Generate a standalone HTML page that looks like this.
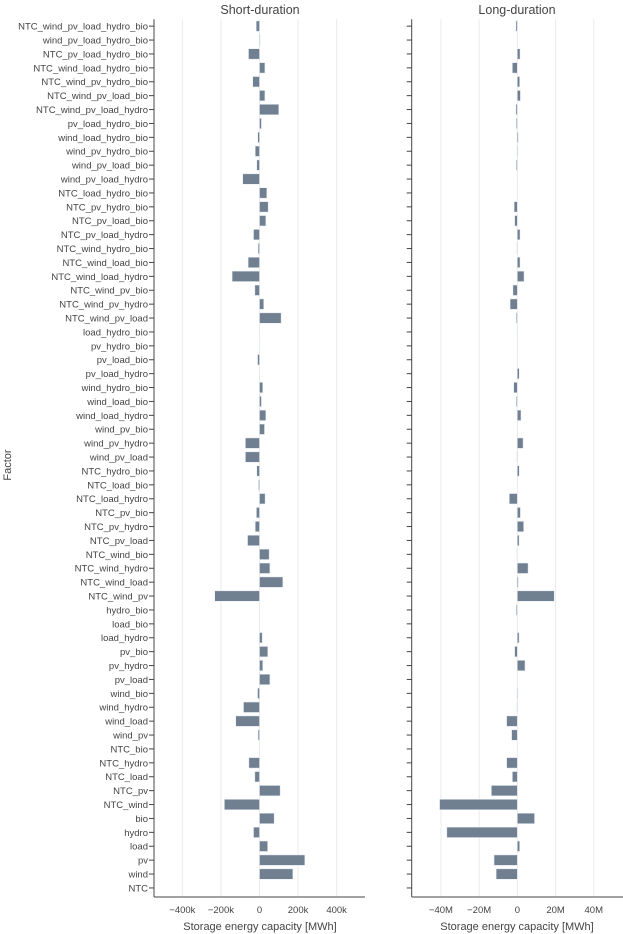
<!DOCTYPE html>
<html><head><meta charset="utf-8">
<style>
html,body{margin:0;padding:0;background:#fff;}
svg{display:block;font-family:"Liberation Sans","DejaVu Sans",sans-serif;}
</style></head>
<body>
<svg id="chart" width="623" height="934" viewBox="0 0 623 934" xmlns="http://www.w3.org/2000/svg">
<text x="260" y="14" font-size="12.5" text-anchor="middle" fill="#444">Short-duration</text>
<text x="517" y="14" font-size="12.5" text-anchor="middle" fill="#444">Long-duration</text>
<text x="0" y="0" font-size="11" text-anchor="middle" fill="#444" transform="translate(11,465) rotate(-90)">Factor</text>
<text x="260" y="930" font-size="11" text-anchor="middle" fill="#444">Storage energy capacity [MWh]</text>
<text x="517" y="930" font-size="11" text-anchor="middle" fill="#444">Storage energy capacity [MWh]</text>
<g id="g"></g>
</svg>
<script>
const categories = ["NTC_wind_pv_load_hydro_bio","wind_pv_load_hydro_bio","NTC_pv_load_hydro_bio","NTC_wind_load_hydro_bio","NTC_wind_pv_hydro_bio","NTC_wind_pv_load_bio","NTC_wind_pv_load_hydro","pv_load_hydro_bio","wind_load_hydro_bio","wind_pv_hydro_bio","wind_pv_load_bio","wind_pv_load_hydro","NTC_load_hydro_bio","NTC_pv_hydro_bio","NTC_pv_load_bio","NTC_pv_load_hydro","NTC_wind_hydro_bio","NTC_wind_load_bio","NTC_wind_load_hydro","NTC_wind_pv_bio","NTC_wind_pv_hydro","NTC_wind_pv_load","load_hydro_bio","pv_hydro_bio","pv_load_bio","pv_load_hydro","wind_hydro_bio","wind_load_bio","wind_load_hydro","wind_pv_bio","wind_pv_hydro","wind_pv_load","NTC_hydro_bio","NTC_load_bio","NTC_load_hydro","NTC_pv_bio","NTC_pv_hydro","NTC_pv_load","NTC_wind_bio","NTC_wind_hydro","NTC_wind_load","NTC_wind_pv","hydro_bio","load_bio","load_hydro","pv_bio","pv_hydro","pv_load","wind_bio","wind_hydro","wind_load","wind_pv","NTC_bio","NTC_hydro","NTC_load","NTC_pv","NTC_wind","bio","hydro","load","pv","wind","NTC"];
// Short-duration, in MWh
const shortValues = [-17e3,3e3,-57e3,28e3,-35e3,28e3,100e3,10e3,-9e3,-22e3,-14e3,-87e3,38e3,45e3,33e3,-31e3,-7e3,-59e3,-142e3,-24e3,22e3,112e3,0,2e3,-10e3,1e3,17e3,10e3,33e3,26e3,-73e3,-73e3,-14e3,-5e3,29e3,-16e3,-22e3,-62e3,50e3,54e3,121e3,-232e3,1e3,0,14e3,43e3,17e3,54e3,-10e3,-83e3,-123e3,-7e3,0,-55e3,-24e3,107e3,-182e3,76e3,-31e3,42e3,235e3,173e3,0];
// Long-duration, in MWh
const longValues = [-0.7e6,0,1.4e6,-2.6e6,1.2e6,1.6e6,-0.7e6,-0.5e6,0.5e6,0.3e6,-0.5e6,0,0,-1.7e6,-1.4e6,1.4e6,-0.3e6,1.4e6,3.5e6,-2.3e6,-3.8e6,-0.5e6,0.2e6,0,0,1e6,-1.9e6,-0.5e6,1.9e6,0,3e6,-0.3e6,1e6,0,-4.2e6,1.6e6,3.3e6,0.9e6,-0.2e6,5.6e6,0.5e6,19.3e6,-0.5e6,0,0.9e6,-1.4e6,4e6,0,0.3e6,-0.3e6,-5.6e6,-3e6,0,-5.6e6,-2.6e6,-13.6e6,-40.7e6,9e6,-36.9e6,1.2e6,-12.2e6,-11.1e6,0];
const shortTicks = [-400e3,-200e3,0,200e3,400e3];
const shortTickLabels = ["−400k","−200k","0","200k","400k"];
const longTicks = [-40e6,-20e6,0,20e6,40e6];
const longTickLabels = ["−40M","−20M","0","20M","40M"];

const NS="http://www.w3.org/2000/svg";
const gEl=document.getElementById('g');
const plotTop=19.2, plotBottom=894.9, axisY=897;
const rowH=(plotBottom-plotTop)/categories.length;
function yPos(i){return plotTop+rowH*(i+0.5);}
function mk(tag,attrs){const e=document.createElementNS(NS,tag);for(const k in attrs)e.setAttribute(k,attrs[k]);gEl.appendChild(e);return e;}

const panels=[
 {name:'short',x0:154,x1:365,min:-547e3,max:547e3,vals:shortValues,ticks:shortTicks,labels:shortTickLabels},
 {name:'long',x0:411.7,x1:623,min:-55.3e6,max:55.3e6,vals:longValues,ticks:longTicks,labels:longTickLabels}
];
panels.forEach(p=>{
  const xs=v=>p.x0+(v-p.min)/(p.max-p.min)*(p.x1-p.x0);
  p.ticks.forEach((t,k)=>{
    const gl=mk('line',{x1:xs(t),x2:xs(t),y1:plotTop,y2:axisY,stroke:'#ebebeb','stroke-width':1});
    
    
    const tl=mk('text',{x:xs(t),y:913,'font-size':9.5,'text-anchor':'middle',fill:'#444'});
    tl.textContent=p.labels[k];
    
    
  });
  p.vals.forEach((v,i)=>{
    const a=xs(0),b=xs(v);
    const r=mk('rect',{x:Math.min(a,b),y:yPos(i)-5.2,width:Math.max(Math.abs(b-a),0.01),height:10.4,fill:'#708090',stroke:'#e5ecf6','stroke-width':0.5});
    
    
  });
  const ya=mk('line',{x1:p.x0,x2:p.x0,y1:plotTop,y2:axisY,stroke:'#444','stroke-width':1});
  
  
  const xa=mk('line',{x1:p.x0,x2:p.x1,y1:axisY,y2:axisY,stroke:'#444','stroke-width':1});
  
  
  categories.forEach((c,i)=>{
    const tk=mk('line',{x1:p.x0-5,x2:p.x0,y1:yPos(i),y2:yPos(i),stroke:'#444','stroke-width':1});
    
    
  });
});
categories.forEach((c,i)=>{
  const t=mk('text',{x:148,y:yPos(i)+3.4,'font-size':9.5,'text-anchor':'end',fill:'#444'});
  t.textContent=c;
  
  
});
</script>
</body></html>
